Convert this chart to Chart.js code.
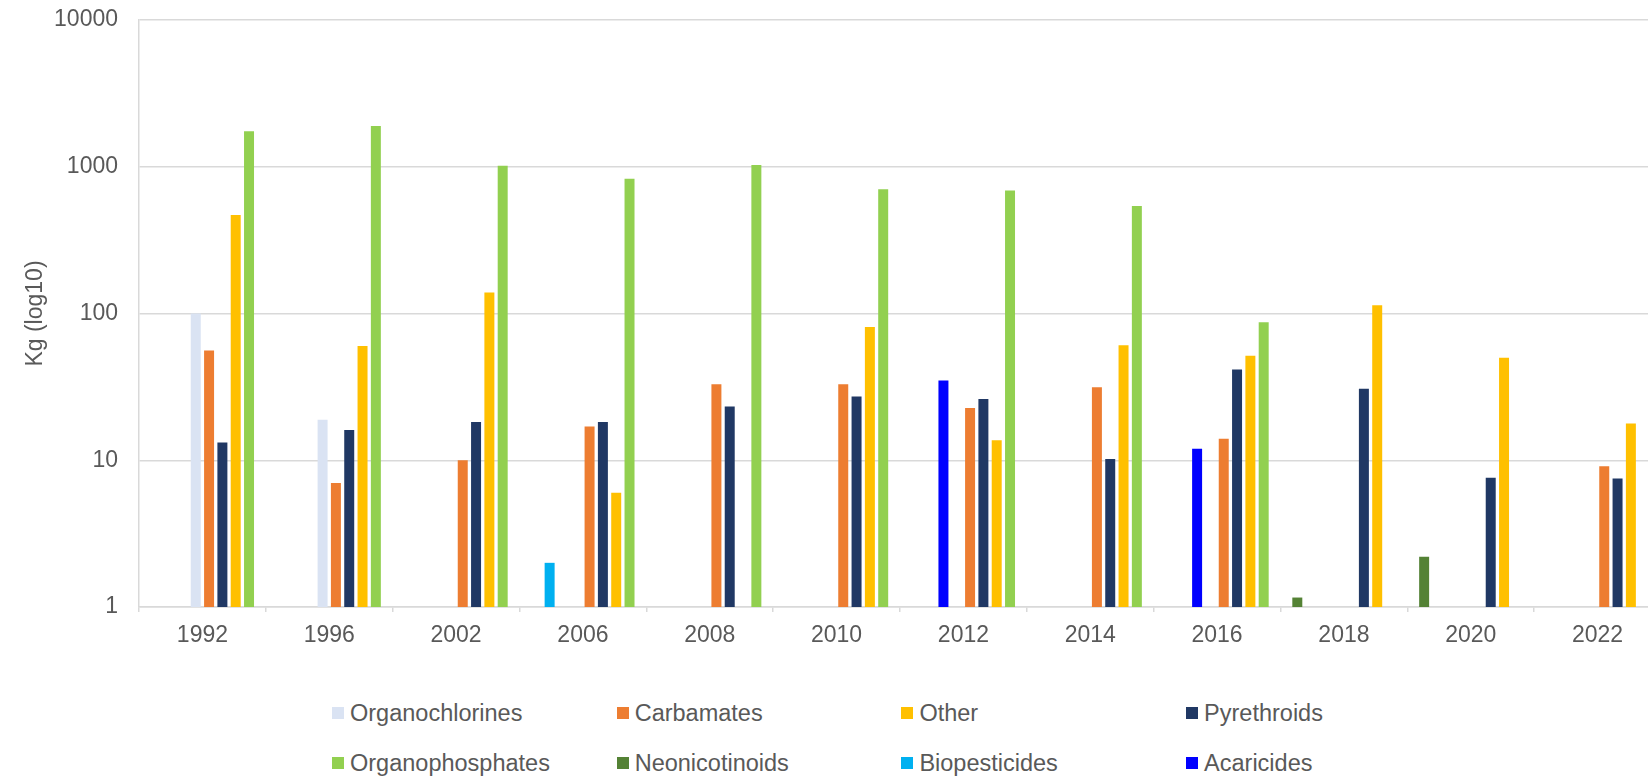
<!doctype html>
<html lang="en">
  <head>
    <meta charset="utf-8">
    <title>Pesticide use by type (log10)</title>
    <script src="https://cdn.jsdelivr.net/npm/chart.js@4"></script>
    <style>
      html, body { margin: 0; padding: 0; overflow: hidden; background: #fff; }
      #wrap { position: relative; width: 1648px; height: 782px; overflow: hidden; }
      #chart { position: absolute; left: 0; top: 0; }
      #legend {
        position: absolute; left: 332px; top: 688px;
        display: grid; grid-template-columns: repeat(4, 284.7px); grid-auto-rows: 50px;
        font-family: "Liberation Sans", Arial, sans-serif; font-size: 23.5px; color: #595959;
      }
      .item { display: flex; align-items: center; white-space: nowrap; }
      .box { width: 12px; height: 12px; margin-right: 6px; flex: none; }
    </style>
  </head>
  <body>
    <div id="wrap">
      <canvas id="chart" width="1662" height="680"></canvas>
      <div id="legend"></div>
    </div>

    <script>
    //------------------------------ data ------------------------------
    const years = ['1992', '1996', '2002', '2006', '2008', '2010', '2012', '2014', '2016', '2018', '2020', '2022'];
    const yTicks = [1, 10, 100, 1000, 10000];

    const neonicotinoids   = [null, null, null, null, null, null, null, null, null, 1.16, 2.2, null];
    const biopesticides    = [null, null, null, 2.0, null, null, null, null, null, null, null, null];
    const acaricides       = [null, null, null, null, null, null, 35, null, 12, null, null, null];
    const organochlorines  = [100, 18.9, null, null, null, null, null, null, null, null, null, null];
    const carbamates       = [56, 7, 10, 17, 33, 33, 22.7, 31.4, 14, null, null, 9.1];
    const pyrethroids      = [13.2, 16.1, 18.2, 18.2, 23.2, 27.2, 26.1, 10.2, 41.6, 30.7, 7.6, 7.5];
    const other            = [469, 60, 139, 6, null, 81, 13.7, 60.8, 51.6, 114, 50, 17.8];
    const organophosphates = [1746, 1896, 1016, 827, 1028, 703, 688, 540, 87.3, null, null, null];

    // bar order inside each year group
    const seriesNames  = ['Neonicotinoids', 'Biopesticides', 'Acaricides', 'Organochlorines',
                          'Carbamates', 'Pyrethroids', 'Other', 'Organophosphates'];
    const seriesValues = [neonicotinoids, biopesticides, acaricides, organochlorines,
                          carbamates, pyrethroids, other, organophosphates];
    const seriesColors = ['#548235', '#00b0f0', '#0000ff', '#dae3f3',
                          '#ed7d31', '#203864', '#ffc000', '#92d050'];

    // legend order (4 per row)
    const legendOrder = ['Organochlorines', 'Carbamates', 'Other', 'Pyrethroids',
                         'Organophosphates', 'Neonicotinoids', 'Biopesticides', 'Acaricides'];

    //------------------------------ chart ------------------------------
    Chart.defaults.font.family = '"Liberation Sans", Arial, sans-serif';
    Chart.defaults.font.size = 23;
    Chart.defaults.color = '#595959';

    const datasets = seriesNames.map((name, i) => ({
      label: name,
      data: seriesValues[i],
      backgroundColor: seriesColors[i],
      borderWidth: 0,
      categoryPercentage: 0.84,
      barPercentage: 0.75
    }));

    const chart = new Chart(document.getElementById('chart'), {
      type: 'bar',
      data: { labels: years, datasets: datasets },
      options: {
        responsive: false,
        animation: false,
        layout: { padding: { top: 20, right: 1, left: 0, bottom: 0 } },
        plugins: { legend: { display: false }, tooltip: { enabled: false } },
        scales: {
          x: {
            grid: { display: true, drawOnChartArea: false, offset: true, tickLength: 5,
                    color: '#d9d9d9', lineWidth: 1.5 },
            border: { color: '#d9d9d9', width: 1.5 },
            ticks: { padding: 10, maxRotation: 0, autoSkip: false },
            afterFit: s => { s.height = 73; }
          },
          y: {
            type: 'logarithmic',
            min: 1,
            max: 10000,
            grid: { color: '#d9d9d9', lineWidth: 1.5, drawTicks: false },
            border: { color: '#d9d9d9', width: 1.5 },
            ticks: { padding: 21, callback: v => String(v) },
            title: { display: true, text: 'Kg (log10)', padding: { top: 22, bottom: 0 } },
            afterBuildTicks: s => { s.ticks = yTicks.map(v => ({ value: v })); },
            // fixed axis width; label padding should not push the plot down
            afterFit: s => { s.width = 139; s.paddingTop = 0; s.paddingBottom = 0; }
          }
        }
      }
    });

    //------------------------------ legend ------------------------------
    const legendBox = document.getElementById('legend');
    legendOrder.forEach(name => {
      const ds = chart.data.datasets.find(d => d.label === name);
      const item = document.createElement('div');
      item.className = 'item';
      item.innerHTML = '<span class="box" style="background:' + ds.backgroundColor + '"></span>' + name;
      legendBox.appendChild(item);
    });
    </script>
  </body>
</html>
